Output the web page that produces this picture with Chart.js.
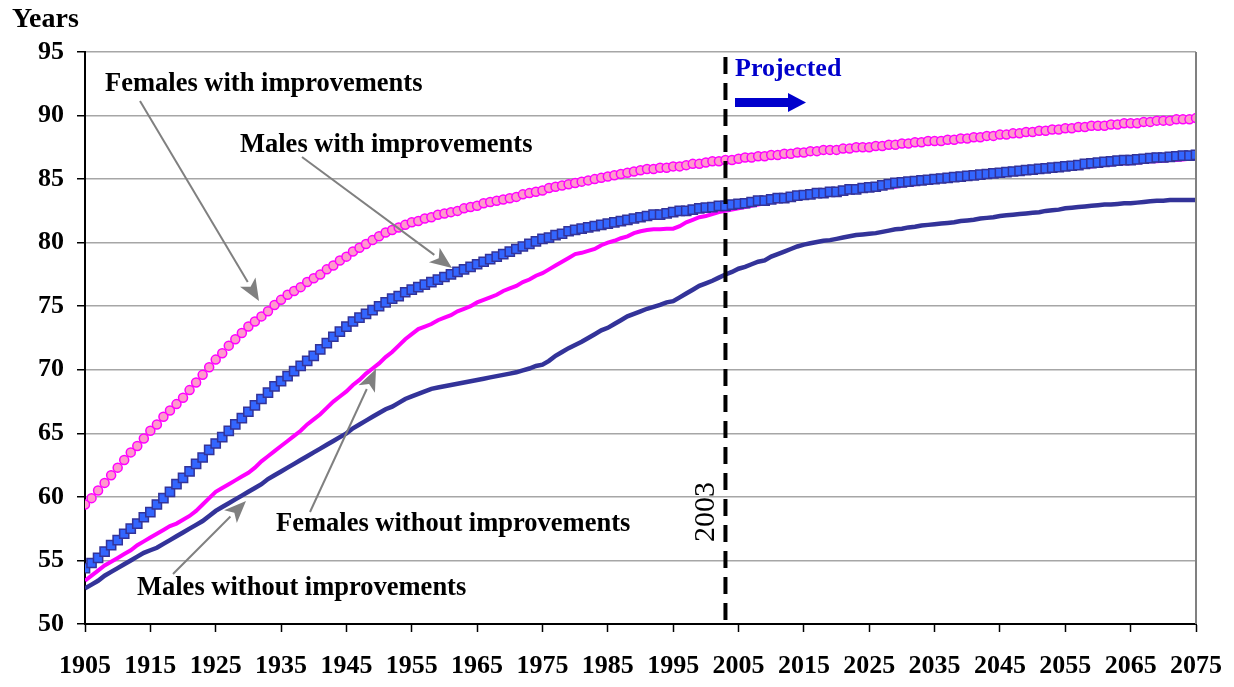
<!DOCTYPE html>
<html>
<head>
<meta charset="utf-8">
<script src="https://cdn.jsdelivr.net/npm/chart.js@4.4.1/dist/chart.umd.min.js"></script>
<style>
  body { margin: 0; background: #fff; }
  #wrap { width: 1234px; height: 687px; }
</style>
</head>
<body>
<div id="wrap"><canvas id="lifeChart" width="1234" height="687"></canvas></div>
<script>
// eixo x: anos 1905..2075 (um ponto por ano)
var years = [];
for (var yr = 1905; yr <= 2075; yr++) years.push(yr);

var tickYears = [1905, 1915, 1925, 1935, 1945, 1955, 1965, 1975, 1985, 1995,
                 2005, 2015, 2025, 2035, 2045, 2055, 2065, 2075];
var tickValues = [50, 55, 60, 65, 70, 75, 80, 85, 90, 95];

// Females with improvements (um por ano)
var femalesWith = [
  59.4, 59.9, 60.5, 61.1, 61.7, 62.3, 62.9, 63.5, 64.0, 64.6,
  65.2, 65.7, 66.3, 66.8, 67.3, 67.8, 68.4, 69.0, 69.6, 70.2,
  70.8, 71.3, 71.9, 72.4, 72.9, 73.4, 73.8, 74.2, 74.6, 75.1,
  75.5, 75.9, 76.2, 76.5, 76.9, 77.2, 77.5, 77.9, 78.2, 78.6,
  78.9, 79.3, 79.6, 79.9, 80.2, 80.5, 80.8, 81.0, 81.2, 81.4,
  81.6, 81.7, 81.9, 82.0, 82.2, 82.3, 82.4, 82.5, 82.7, 82.8,
  82.9, 83.1, 83.2, 83.3, 83.4, 83.5, 83.6, 83.8, 83.9, 84.0,
  84.1, 84.3, 84.4, 84.5, 84.6, 84.7, 84.8, 84.9, 85.0, 85.1,
  85.2, 85.3, 85.4, 85.5, 85.6, 85.7, 85.8, 85.8, 85.9, 85.9,
  86.0, 86.0, 86.1, 86.2, 86.2, 86.3, 86.4, 86.4, 86.5, 86.5,
  86.6, 86.7, 86.7, 86.8, 86.8, 86.9, 86.9, 87.0, 87.0, 87.1,
  87.1, 87.2, 87.2, 87.3, 87.3, 87.3, 87.4, 87.4, 87.5, 87.5,
  87.5, 87.6, 87.6, 87.7, 87.7, 87.8, 87.8, 87.9, 87.9, 88.0,
  88.0, 88.0, 88.1, 88.1, 88.2, 88.2, 88.3, 88.3, 88.4, 88.4,
  88.5, 88.5, 88.6, 88.6, 88.7, 88.7, 88.8, 88.8, 88.9, 88.9,
  89.0, 89.0, 89.1, 89.1, 89.2, 89.2, 89.2, 89.3, 89.3, 89.4,
  89.4, 89.4, 89.5, 89.5, 89.6, 89.6, 89.6, 89.7, 89.7, 89.7,
  89.8
];

// Males with improvements
var malesWith = [
  54.4, 54.8, 55.2, 55.7, 56.2, 56.6, 57.1, 57.5, 57.9, 58.4,
  58.8, 59.4, 59.9, 60.4, 61.0, 61.5, 62.0, 62.6, 63.1, 63.7,
  64.2, 64.7, 65.2, 65.7, 66.2, 66.7, 67.2, 67.7, 68.2, 68.7,
  69.1, 69.5, 69.9, 70.3, 70.7, 71.1, 71.6, 72.1, 72.6, 73.0,
  73.4, 73.8, 74.1, 74.4, 74.7, 75.0, 75.3, 75.6, 75.8, 76.1,
  76.3, 76.5, 76.7, 76.9, 77.1, 77.3, 77.5, 77.7, 77.9, 78.1,
  78.3, 78.5, 78.7, 78.9, 79.1, 79.3, 79.5, 79.7, 79.9, 80.1,
  80.3, 80.4, 80.6, 80.7, 80.9, 81.0, 81.1, 81.2, 81.3, 81.4,
  81.5, 81.6, 81.7, 81.8, 81.9, 82.0, 82.1, 82.2, 82.2, 82.3,
  82.4, 82.5, 82.5, 82.6, 82.7, 82.75, 82.8, 82.9, 82.9, 83.0,
  83.05, 83.1, 83.2, 83.3, 83.3, 83.4, 83.5, 83.5, 83.6, 83.7,
  83.75, 83.8, 83.9, 83.9, 84.0, 84.0, 84.1, 84.2, 84.2, 84.3,
  84.35, 84.4, 84.5, 84.6, 84.7, 84.75, 84.8, 84.85, 84.9, 84.95,
  85.0, 85.05, 85.1, 85.15, 85.2, 85.25, 85.3, 85.35, 85.4, 85.45,
  85.5, 85.55, 85.6, 85.65, 85.7, 85.75, 85.8, 85.85, 85.9, 85.95,
  86.0, 86.05, 86.1, 86.2, 86.25, 86.3, 86.35, 86.4, 86.45, 86.5,
  86.5, 86.55, 86.6, 86.65, 86.7, 86.7, 86.75, 86.8, 86.85, 86.85,
  86.9
];

// Females without improvements
var femalesWithout = [
  53.4, 53.8, 54.2, 54.6, 54.9, 55.2, 55.5, 55.8, 56.2, 56.5,
  56.8, 57.1, 57.4, 57.7, 57.9, 58.2, 58.5, 58.9, 59.4, 59.9,
  60.4, 60.7, 61.0, 61.3, 61.6, 61.9, 62.3, 62.8, 63.2, 63.6,
  64.0, 64.4, 64.8, 65.2, 65.7, 66.1, 66.5, 67.0, 67.5, 67.9,
  68.3, 68.8, 69.2, 69.7, 70.1, 70.5, 71.0, 71.4, 71.9, 72.4,
  72.8, 73.2, 73.4, 73.6, 73.9, 74.1, 74.3, 74.6, 74.8, 75.0,
  75.3, 75.5, 75.7, 75.9, 76.2, 76.4, 76.6, 76.9, 77.1, 77.4,
  77.6, 77.9, 78.2, 78.5, 78.8, 79.1, 79.2, 79.35, 79.5, 79.8,
  80.0, 80.15, 80.35, 80.5, 80.75, 80.9, 81.0, 81.05, 81.05, 81.1,
  81.1, 81.3, 81.6, 81.8, 82.0, 82.1, 82.25, 82.4, 82.5, 82.6,
  82.7, 82.8, 82.9, 83.0, 83.1, 83.2, 83.25, 83.3, 83.4, 83.5,
  83.55, 83.6, 83.7, 83.75, 83.8, 83.85, 83.9, 84.0, 84.05, 84.1,
  84.15, 84.2, 84.3, 84.35, 84.4, 84.5, 84.55, 84.6, 84.7, 84.75,
  84.8, 84.85, 84.9, 84.95, 85.0, 85.05, 85.1, 85.15, 85.2, 85.25,
  85.3, 85.35, 85.4, 85.45, 85.5, 85.55, 85.6, 85.65, 85.7, 85.75,
  85.8, 85.85, 85.9, 85.95, 86.0, 86.05, 86.1, 86.15, 86.2, 86.25,
  86.25, 86.3, 86.35, 86.4, 86.4, 86.45, 86.5, 86.5, 86.55, 86.6,
  86.6
];

// Males without improvements
var malesWithout = [
  52.8, 53.1, 53.4, 53.8, 54.1, 54.4, 54.7, 55.0, 55.3, 55.6,
  55.8, 56.0, 56.3, 56.6, 56.9, 57.2, 57.5, 57.8, 58.1, 58.5,
  58.9, 59.2, 59.5, 59.8, 60.1, 60.4, 60.7, 61.0, 61.4, 61.7,
  62.0, 62.3, 62.6, 62.9, 63.2, 63.5, 63.8, 64.1, 64.4, 64.7,
  65.0, 65.4, 65.7, 66.0, 66.3, 66.6, 66.9, 67.1, 67.4, 67.7,
  67.9, 68.1, 68.3, 68.5, 68.6, 68.7, 68.8, 68.9, 69.0, 69.1,
  69.2, 69.3, 69.4, 69.5, 69.6, 69.7, 69.8, 69.95, 70.1, 70.3,
  70.4, 70.7, 71.1, 71.4, 71.7, 71.95, 72.2, 72.5, 72.8, 73.1,
  73.3, 73.6, 73.9, 74.2, 74.4, 74.6, 74.8, 74.95, 75.1, 75.3,
  75.4, 75.7, 76.0, 76.3, 76.6, 76.8, 77.0, 77.25, 77.5, 77.7,
  77.95, 78.1, 78.3, 78.5, 78.6, 78.9, 79.1, 79.3, 79.5, 79.7,
  79.85, 79.95, 80.05, 80.15, 80.2, 80.3, 80.4, 80.5, 80.6, 80.65,
  80.7, 80.75, 80.85, 80.95, 81.05, 81.1, 81.2, 81.25, 81.35, 81.4,
  81.45, 81.5, 81.55, 81.6, 81.7, 81.75, 81.8, 81.9, 81.95, 82.0,
  82.1, 82.15, 82.2, 82.25, 82.3, 82.35, 82.4, 82.5, 82.55, 82.6,
  82.7, 82.75, 82.8, 82.85, 82.9, 82.95, 83.0, 83.0, 83.05, 83.1,
  83.1, 83.15, 83.2, 83.25, 83.3, 83.3, 83.35, 83.35, 83.35, 83.35,
  83.35
];

var projectionYear = 2003;

var serif = '"Liberation Serif", "Times New Roman", serif';

function toPoints(values) {
  return values.map(function(v, i) { return { x: years[i], y: v }; });
}

// desenha uma seta cinza com ponta cheia
function drawArrow(ctx, x1, y1, x2, y2, color, width, headLen, headW) {
  var ang = Math.atan2(y2 - y1, x2 - x1);
  var bx = x2 - headLen * Math.cos(ang);
  var by = y2 - headLen * Math.sin(ang);
  ctx.save();
  ctx.strokeStyle = color;
  ctx.fillStyle = color;
  ctx.lineWidth = width;
  ctx.beginPath();
  ctx.moveTo(x1, y1);
  ctx.lineTo(bx, by);
  ctx.stroke();
  ctx.beginPath();
  ctx.moveTo(x2, y2);
  ctx.lineTo(bx + headW * Math.sin(ang), by - headW * Math.cos(ang));
  ctx.lineTo(bx + headLen * 0.25 * Math.cos(ang), by + headLen * 0.25 * Math.sin(ang));
  ctx.lineTo(bx - headW * Math.sin(ang), by + headW * Math.cos(ang));
  ctx.closePath();
  ctx.fill();
  ctx.restore();
}

// plugin com anotações (linha de 2003, textos e setas)
var annotations = {
  id: 'annotations',
  afterDatasetsDraw: function(chart) {
    var ctx = chart.ctx;
    var xs = chart.scales.x;
    var area = chart.chartArea;

    ctx.save();
    // borda direita
    ctx.strokeStyle = '#808080';
    ctx.lineWidth = 2;
    ctx.beginPath();
    ctx.moveTo(area.right, area.top);
    ctx.lineTo(area.right, area.bottom);
    ctx.stroke();

    // linha tracejada do ano de projeção
    var xp = xs.getPixelForValue(projectionYear);
    ctx.strokeStyle = '#000';
    ctx.lineWidth = 4;
    ctx.setLineDash([17, 9]);
    ctx.beginPath();
    ctx.moveTo(xp, area.top + 5);
    ctx.lineTo(xp, area.bottom);
    ctx.stroke();
    ctx.setLineDash([]);

    // "2003" vertical
    ctx.save();
    ctx.translate(xp - 19, 512);
    ctx.rotate(-Math.PI / 2);
    ctx.fillStyle = '#000';
    ctx.font = '30px ' + serif;
    ctx.textAlign = 'center';
    ctx.textBaseline = 'middle';
    ctx.fillText('2003', 0, 0);
    ctx.restore();

    // Projected
    ctx.fillStyle = '#0000CC';
    ctx.font = 'bold 26px ' + serif;
    ctx.textAlign = 'left';
    ctx.textBaseline = 'middle';
    ctx.fillText('Projected', 735, 69);
    ctx.fillRect(735, 98, 54, 9);
    ctx.beginPath();
    ctx.moveTo(788, 93);
    ctx.lineTo(806, 102.5);
    ctx.lineTo(788, 112);
    ctx.closePath();
    ctx.fill();

    // rótulos das séries
    ctx.fillStyle = '#000';
    ctx.font = 'bold 26.5px ' + serif;
    ctx.fillText('Females with improvements', 105, 84);
    ctx.fillText('Males with improvements', 240, 145);
    ctx.fillText('Females without improvements', 276, 524);
    ctx.fillText('Males without improvements', 137, 588);

    // setas cinzas
    var grey = '#808080';
    drawArrow(ctx, 140, 101, 259, 301, grey, 2, 22, 9);
    drawArrow(ctx, 302, 157, 452, 268, grey, 2, 22, 9);
    drawArrow(ctx, 310, 512, 376, 369, grey, 2, 22, 9);
    drawArrow(ctx, 173, 574, 246, 501, grey, 2, 22, 9);

    // título do eixo y
    ctx.font = 'bold 28px ' + serif;
    ctx.fillText('Years', 12, 20);
    ctx.restore();
  }
};

var ctx = document.getElementById('lifeChart').getContext('2d');

var chart = new Chart(ctx, {
  type: 'line',
  data: {
    datasets: [
      {
        label: 'Females with improvements',
        data: toPoints(femalesWith),
        showLine: false,
        pointStyle: 'circle',
        pointRadius: 4.5,
        pointBorderWidth: 1.5,
        pointBorderColor: '#FF00FF',
        pointBackgroundColor: '#FF99CC',
        order: 1
      },
      {
        label: 'Males with improvements',
        data: toPoints(malesWith),
        showLine: false,
        pointStyle: 'rect',
        pointRadius: 6.5,
        pointBorderWidth: 1.5,
        pointBorderColor: '#333399',
        pointBackgroundColor: '#3366FF',
        order: 2
      },
      {
        label: 'Females without improvements',
        data: toPoints(femalesWithout),
        borderColor: '#FF00FF',
        borderWidth: 4,
        pointRadius: 0,
        tension: 0,
        order: 3
      },
      {
        label: 'Males without improvements',
        data: toPoints(malesWithout),
        borderColor: '#333399',
        borderWidth: 4.5,
        pointRadius: 0,
        tension: 0,
        order: 4
      }
    ]
  },
  options: {
    responsive: false,
    animation: false,
    layout: { padding: { left: 0, top: 52, right: 38, bottom: 0 } },
    plugins: {
      legend: { display: false },
      tooltip: { enabled: false }
    },
    scales: {
      x: {
        type: 'linear',
        min: 1905,
        max: 2075,
        afterBuildTicks: function(scale) {
          scale.ticks = tickYears.map(function(v) { return { value: v }; });
        },
        afterFit: function(scale) {
          scale.height = 63;
          scale.paddingLeft = 0;
          scale.paddingRight = 0;
        },
        grid: {
          drawOnChartArea: false,
          drawTicks: true,
          tickLength: 8,
          tickColor: '#000',
          tickWidth: 1.5
        },
        border: { display: true, color: '#000', width: 2 },
        ticks: {
          autoSkip: false,
          maxRotation: 0,
          padding: 19,
          color: '#000',
          font: { family: serif, size: 26, weight: 'bold' },
          callback: function(v) { return String(v); }
        }
      },
      y: {
        min: 50,
        max: 95,
        afterBuildTicks: function(scale) {
          scale.ticks = tickValues.map(function(v) { return { value: v }; });
        },
        afterFit: function(scale) {
          scale.width = 85;
          scale.paddingTop = 0;
          scale.paddingBottom = 0;
        },
        grid: {
          color: '#a6a6a6',
          lineWidth: 1.5,
          drawTicks: true,
          tickLength: 8,
          tickColor: '#000',
          tickWidth: 1.5
        },
        border: { display: true, color: '#000', width: 2 },
        ticks: {
          padding: 13,
          color: '#000',
          font: { family: serif, size: 26, weight: 'bold' }
        }
      }
    }
  },
  plugins: [annotations]
});
</script>
</body>
</html>
